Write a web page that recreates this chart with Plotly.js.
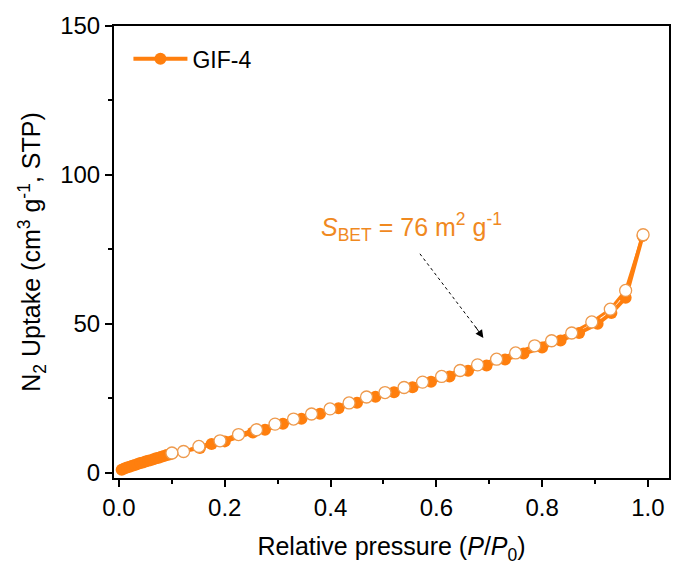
<!DOCTYPE html>
<html>
<head>
<meta charset="utf-8">
<script src="https://cdn.plot.ly/plotly-3.0.1.min.js"></script>
<style>html,body{margin:0;padding:0;background:#fff}#chart{width:675px;height:571px}</style>
</head>
<body>
<div id="chart"></div>
<script>
// Adsorption branch (filled circles)
const adsP = [0.005,0.01,0.015,0.02,0.025,0.03,0.035,0.04,0.045,0.05,0.055,0.06,0.065,0.07,0.075,0.08,0.085,0.09,0.095,0.10,
  0.153,0.175,0.20,0.253,0.276,0.31,0.345,0.38,0.415,0.45,0.485,0.52,0.555,0.59,0.625,0.66,0.695,0.73,0.765,0.80,0.835,0.87,0.905,0.931,0.958,0.99];
const adsV = [1.0,1.4,1.7,2.0,2.3,2.6,2.9,3.2,3.4,3.7,4.0,4.2,4.5,4.8,5.0,5.3,5.6,5.9,6.1,6.4,
  8.3,9.6,10.5,13.5,14.4,16.4,18.1,19.8,21.6,23.5,25.5,27.0,28.7,30.5,32.3,34.2,36.0,38.0,40.0,42.0,44.4,46.9,50.0,53.6,58.7,79.5];
// Desorption branch (open circles)
const desP = [0.991,0.958,0.929,0.894,0.856,0.818,0.786,0.750,0.714,0.678,0.645,0.610,0.574,0.539,0.503,0.468,0.435,0.399,0.364,0.330,0.295,0.260,0.226,0.191,0.151,0.122,0.100];
const desV = [79.9,61.2,54.9,50.6,46.9,44.3,42.6,40.2,38.1,36.2,34.3,32.3,30.4,28.6,26.9,25.4,23.4,21.4,19.7,18.0,16.3,14.4,12.8,10.7,8.8,7.1,6.6];
const seriesName = 'GIF-4';
const xTickVals = [0,0.2,0.4,0.6,0.8,1.0];
const xTickText = ['0.0','0.2','0.4','0.6','0.8','1.0'];
const yTickVals = [0,50,100,150];

const orange = '#FF7F0E';
const FONT = 'Liberation Sans, Arial, sans-serif';

const traces = [
  {x: adsP, y: adsV, name: seriesName, mode: 'lines+markers', type: 'scatter',
   line: {color: orange, width: 4},
   marker: {color: orange, size: 12, symbol: 'circle', line: {width: 0}}},
  {x: desP, y: desV, name: seriesName + ' des', mode: 'lines+markers', type: 'scatter', showlegend: false,
   line: {color: orange, width: 3},
   marker: {color: '#ffffff', size: 12, symbol: 'circle', line: {color: '#EE9A4D', width: 1.3}}}
];

const layout = {
  width: 675, height: 571,
  margin: {l: 114, r: 6, t: 26, b: 93},
  paper_bgcolor: '#fff', plot_bgcolor: '#fff',
  font: {family: FONT, color: '#000', size: 24},
  showlegend: true,
  legend: {x: 0.026, y: 0.975, xanchor: 'left', yanchor: 'top', bgcolor: 'rgba(0,0,0,0)', itemwidth: 54,
           font: {family: FONT, size: 23, color: '#000'}},
  xaxis: {range: [-0.0095, 1.04], tickvals: xTickVals, ticktext: xTickText,
          showgrid: false, zeroline: false, showline: true, linecolor: '#000', linewidth: 2, mirror: true,
          ticks: 'outside', ticklen: 7, tickwidth: 2, tickcolor: '#000',
          tickfont: {family: FONT, size: 24, color: '#000'},
          minor: {dtick: 0.1, tick0: 0, ticks: 'outside', ticklen: 4, tickwidth: 1.5, tickcolor: '#000'},
          title: {text: 'Relative pressure (<i>P</i>/<i>P</i><sub>0</sub>)', font: {family: FONT, size: 25, color: '#000'}, standoff: 18}},
  yaxis: {range: [-1.8, 150], tickvals: yTickVals,
          showgrid: false, zeroline: false, showline: true, linecolor: '#000', linewidth: 2, mirror: true,
          ticks: 'outside', ticklen: 7, tickwidth: 2, tickcolor: '#000',
          tickfont: {family: FONT, size: 24, color: '#000'},
          minor: {dtick: 25, tick0: 0, ticks: 'outside', ticklen: 4, tickwidth: 1.5, tickcolor: '#000'},
          title: {text: 'N<sub>2</sub> Uptake (cm<sup>3</sup> g<sup>-1</sup>, STP)', font: {family: FONT, size: 25, color: '#000'}, standoff: 12}},
  shapes: [
    {type: 'line', xref: 'x', yref: 'y', x0: 0.569, y0: 73.5, x1: 0.676, y1: 48.5,
     line: {color: '#000', width: 1, dash: 'dot'}}
  ],
  annotations: [
    {xref: 'x', yref: 'y', x: 0.554, y: 82.5, showarrow: false,
     text: '<i>S</i><sub>BET</sub> = 76 m<sup>2</sup> g<sup>-1</sup>',
     font: {family: FONT, size: 25, color: '#F0891F'}},
    {xref: 'x', yref: 'y', x: 0.689, y: 45.2, axref: 'x', ayref: 'y', ax: 0.672, ay: 49.5,
     showarrow: true, text: '', arrowhead: 2, arrowsize: 1.6, arrowwidth: 1, arrowcolor: '#000'}
  ]
};

Plotly.newPlot('chart', traces, layout, {displayModeBar: false, responsive: false});
</script>
</body>
</html>
